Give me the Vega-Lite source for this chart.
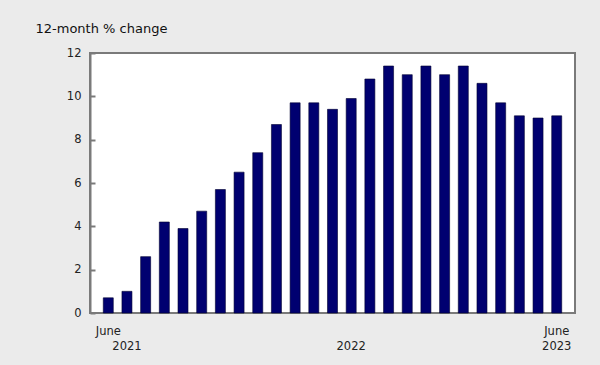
{
  "$schema": "https://vega.github.io/schema/vega-lite/v6.json",
  "autosize": "none",
  "width": 485,
  "height": 260,
  "padding": {"left": 90, "top": 53, "right": 25, "bottom": 52},
  "background": "#ebebeb",
  "config": {
    "font": "DejaVu Sans",
    "view": {"fill": "white", "stroke": "#7a7a7a", "strokeWidth": 2},
    "axis": {"labelFont": "DejaVu Sans", "labelColor": "#222222", "labelFontSize": 11.5, "grid": false}
  },
  "data": {
    "values": [
      {"month": "2021-06", "value": 0.7},
      {"month": "2021-07", "value": 1.0},
      {"month": "2021-08", "value": 2.6},
      {"month": "2021-09", "value": 4.2},
      {"month": "2021-10", "value": 3.9},
      {"month": "2021-11", "value": 4.7},
      {"month": "2021-12", "value": 5.7},
      {"month": "2022-01", "value": 6.5},
      {"month": "2022-02", "value": 7.4},
      {"month": "2022-03", "value": 8.7},
      {"month": "2022-04", "value": 9.7},
      {"month": "2022-05", "value": 9.7},
      {"month": "2022-06", "value": 9.4},
      {"month": "2022-07", "value": 9.9},
      {"month": "2022-08", "value": 10.8},
      {"month": "2022-09", "value": 11.4},
      {"month": "2022-10", "value": 11.0},
      {"month": "2022-11", "value": 11.4},
      {"month": "2022-12", "value": 11.0},
      {"month": "2023-01", "value": 11.4},
      {"month": "2023-02", "value": 10.6},
      {"month": "2023-03", "value": 9.7},
      {"month": "2023-04", "value": 9.1},
      {"month": "2023-05", "value": 9.0},
      {"month": "2023-06", "value": 9.1}
    ]
  },
  "mark": {"type": "bar", "fill": "#000070", "stroke": "#000030", "strokeWidth": 0.6},
  "encoding": {
    "x": {
      "field": "month",
      "type": "ordinal",
      "scale": {"paddingInner": 0.464, "paddingOuter": 0.71},
      "axis": {
        "title": null,
        "domain": false,
        "ticks": false,
        "values": ["2021-06", "2021-07", "2022-07", "2023-06"],
        "labelExpr": "datum.value == '2021-06' ? ['June', ''] : datum.value == '2021-07' ? ['', '2021'] : datum.value == '2022-07' ? ['', '2022'] : datum.value == '2023-06' ? ['June', '2023'] : ''",
        "labelAngle": 0,
        "labelAlign": "center",
        "labelBaseline": "top",
        "labelPadding": 12,
        "labelLineHeight": 15,
        "labelOverlap": false,
        "labelBound": false,
        "labelFlush": false
      }
    },
    "y": {
      "field": "value",
      "type": "quantitative",
      "scale": {"domain": [0, 12], "nice": false},
      "axis": {
        "values": [0, 2, 4, 6, 8, 10, 12],
        "domainColor": "#7a7a7a",
        "domainWidth": 2,
        "ticks": false,
        "grid": true,
        "gridColor": "#7a7a7a",
        "gridWidth": 2,
        "gridDash": [5, 2000],
        "gridOpacity": 1,
        "labelPadding": 9,
        "title": "12-month % change",
        "titleAngle": 0,
        "titleAlign": "left",
        "titleBaseline": "alphabetic",
        "titleX": -55,
        "titleY": -21,
        "titleFontSize": 13,
        "titleFontWeight": "normal",
        "titleColor": "#111111",
        "titleFont": "DejaVu Sans"
      }
    }
  }
}
